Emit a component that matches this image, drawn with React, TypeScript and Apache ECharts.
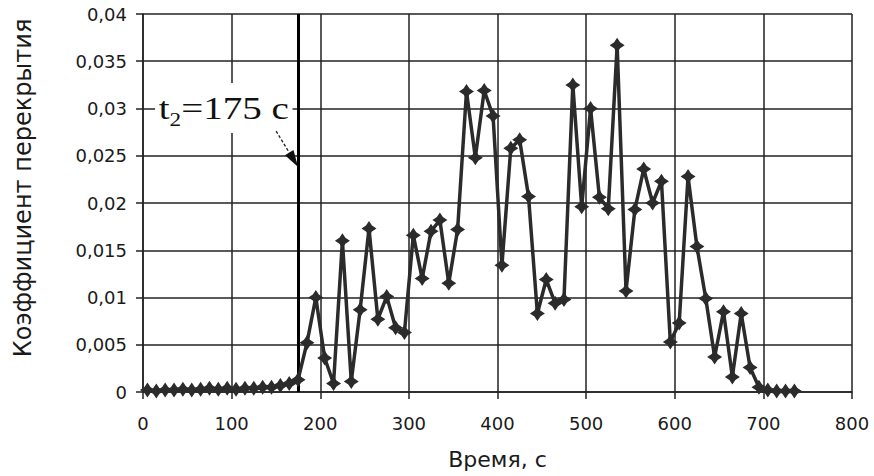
import React, { useEffect, useRef } from "react";
import * as echarts from "echarts";

const times = [5, 15, 25, 35, 45, 55, 65, 75, 85, 95, 105, 115, 125, 135, 145, 155, 165, 175, 185, 195, 205, 215, 225, 235, 245, 255, 265, 275, 285, 295, 305, 315, 325, 335, 345, 355, 365, 375, 385, 395, 405, 415, 425, 435, 445, 455, 465, 475, 485, 495, 505, 515, 525, 535, 545, 555, 565, 575, 585, 595, 605, 615, 625, 635, 645, 655, 665, 675, 685, 695, 705, 715, 725, 735];

const overlap = [0.0002, 0.0001, 0.0002, 0.0002, 0.0003, 0.0002, 0.0003, 0.0004, 0.0003, 0.0004, 0.0003, 0.0004, 0.0004, 0.0005, 0.0005, 0.0007, 0.0009, 0.0013, 0.0052, 0.01, 0.0036, 0.0009, 0.016, 0.0011, 0.0087, 0.0173, 0.0077, 0.0101, 0.0068, 0.0063, 0.0166, 0.012, 0.017, 0.0182, 0.0115, 0.0172, 0.0318, 0.0248, 0.0319, 0.0292, 0.0134, 0.0258, 0.0267, 0.0207, 0.0083, 0.0119, 0.0094, 0.0098, 0.0325, 0.0196, 0.03, 0.0206, 0.0194, 0.0367, 0.0107, 0.0193, 0.0236, 0.02, 0.0223, 0.0053, 0.0073, 0.0228, 0.0154, 0.0099, 0.0037, 0.0085, 0.0016, 0.0083, 0.0026, 0.0005, 0.0002, 0.0001, 0.0001, 0.0001];

const markerTime = 175;
const arrowTipValue = 0.0238;
const annotationLabel = "=175 c";

const xTicks = { min: 0, max: 800, interval: 100 };
const yTicks = { min: 0, max: 0.04, interval: 0.005 };

const GRID_COLOR = "#222222";
const TEXT_COLOR = "#1a1a1a";
const SANS = "DejaVu Sans";

export default function App() {
  const ref = useRef<HTMLDivElement>(null);

  useEffect(() => {
    if (!ref.current) return;
    const chart = echarts.init(ref.current, undefined, { renderer: "svg" });
    const data = times.map((t, i) => [t, overlap[i]]);

    chart.setOption({
      animation: false,
      backgroundColor: "#ffffff",
      grid: { left: 143, right: 22, top: 14, bottom: 84, containLabel: false },
      xAxis: {
        type: "value",
        min: xTicks.min,
        max: xTicks.max,
        interval: xTicks.interval,
        name: "Время, с",
        nameLocation: "middle",
        nameGap: 56,
        nameTextStyle: { fontFamily: SANS, fontSize: 22, color: TEXT_COLOR },
        axisLine: { show: true, lineStyle: { color: GRID_COLOR, width: 1.5 } },
        axisTick: { show: true, length: 7, lineStyle: { color: GRID_COLOR, width: 1.5 } },
        axisLabel: { fontFamily: SANS, fontSize: 18, color: TEXT_COLOR, margin: 22 },
        splitLine: { show: true, lineStyle: { color: GRID_COLOR, width: 1.5 } },
      },
      yAxis: {
        type: "value",
        min: yTicks.min,
        max: yTicks.max,
        interval: yTicks.interval,
        name: "Коэффициент перекрытия",
        nameLocation: "middle",
        nameGap: 108,
        nameTextStyle: { fontFamily: SANS, fontSize: 24, color: TEXT_COLOR, padding: [0, 0, 0, 30] },
        axisLine: { show: true, lineStyle: { color: GRID_COLOR, width: 1.5 } },
        axisTick: { show: true, length: 7, lineStyle: { color: GRID_COLOR, width: 1.5 } },
        axisLabel: {
          fontFamily: SANS,
          fontSize: 18,
          color: TEXT_COLOR,
          margin: 16,
          formatter: (v: number) => String(+v.toFixed(3)).replace(".", ","),
        },
        splitLine: { show: true, lineStyle: { color: GRID_COLOR, width: 1.5 } },
      },
      series: [
        {
          type: "line",
          data,
          symbol: "path://M10,0 L14,6 L20,10 L14,14 L10,20 L6,14 L0,10 L6,6 Z",
          symbolSize: 15,
          itemStyle: { color: "#2b2b2b" },
          lineStyle: { color: "#2b2b2b", width: 3.5 },
          z: 3,
          markLine: {
            silent: true,
            symbol: ["none", "none"],
            label: { show: false },
            lineStyle: { color: "#000000", width: 3, type: "solid" },
            data: [{ xAxis: markerTime }],
            z: 2,
          },
        },
      ],
    });

    const tip = chart.convertToPixel({ xAxisIndex: 0, yAxisIndex: 0 }, [markerTime, arrowTipValue]) as number[];
    const tx = tip[0];
    const ty = tip[1];
    const sx = tx - 22;
    const sy = ty - 36;
    const len = Math.hypot(tx - sx, ty - sy);
    const ux = (tx - sx) / len;
    const uy = (ty - sy) / len;
    const headLen = 17;
    const headW = 5;
    const bx = tx - ux * headLen;
    const by = ty - uy * headLen;

    chart.setOption({
      graphic: [
        {
          type: "text",
          x: tx - 143,
          y: ty - 84,
          scaleX: 1.22,
          z: 10,
          style: {
            text: "{a|t}{b|2}{a|" + annotationLabel + "}",
            backgroundColor: "#ffffff",
            padding: [4, 3, 4, 3],
            rich: {
              a: { fontFamily: "Liberation Serif", fontSize: 32, lineHeight: 42, fill: "#111", verticalAlign: "middle" },
              b: { fontFamily: "Liberation Serif", fontSize: 19, lineHeight: 10, fill: "#111", verticalAlign: "bottom" },
            },
          },
        },
        {
          type: "line",
          z: 10,
          shape: { x1: sx, y1: sy, x2: bx, y2: by },
          style: { stroke: "#222", lineWidth: 1.3, lineDash: [3, 2] },
        },
        {
          type: "polygon",
          z: 10,
          shape: {
            points: [
              [tx, ty],
              [bx - uy * headW, by + ux * headW],
              [bx + uy * headW, by - ux * headW],
            ],
          },
          style: { fill: "#111" },
        },
      ],
    });

    return () => chart.dispose();
  }, []);

  return <div ref={ref} style={{ position: "fixed", left: 0, top: 0, width: 874, height: 476 }} />;
}
